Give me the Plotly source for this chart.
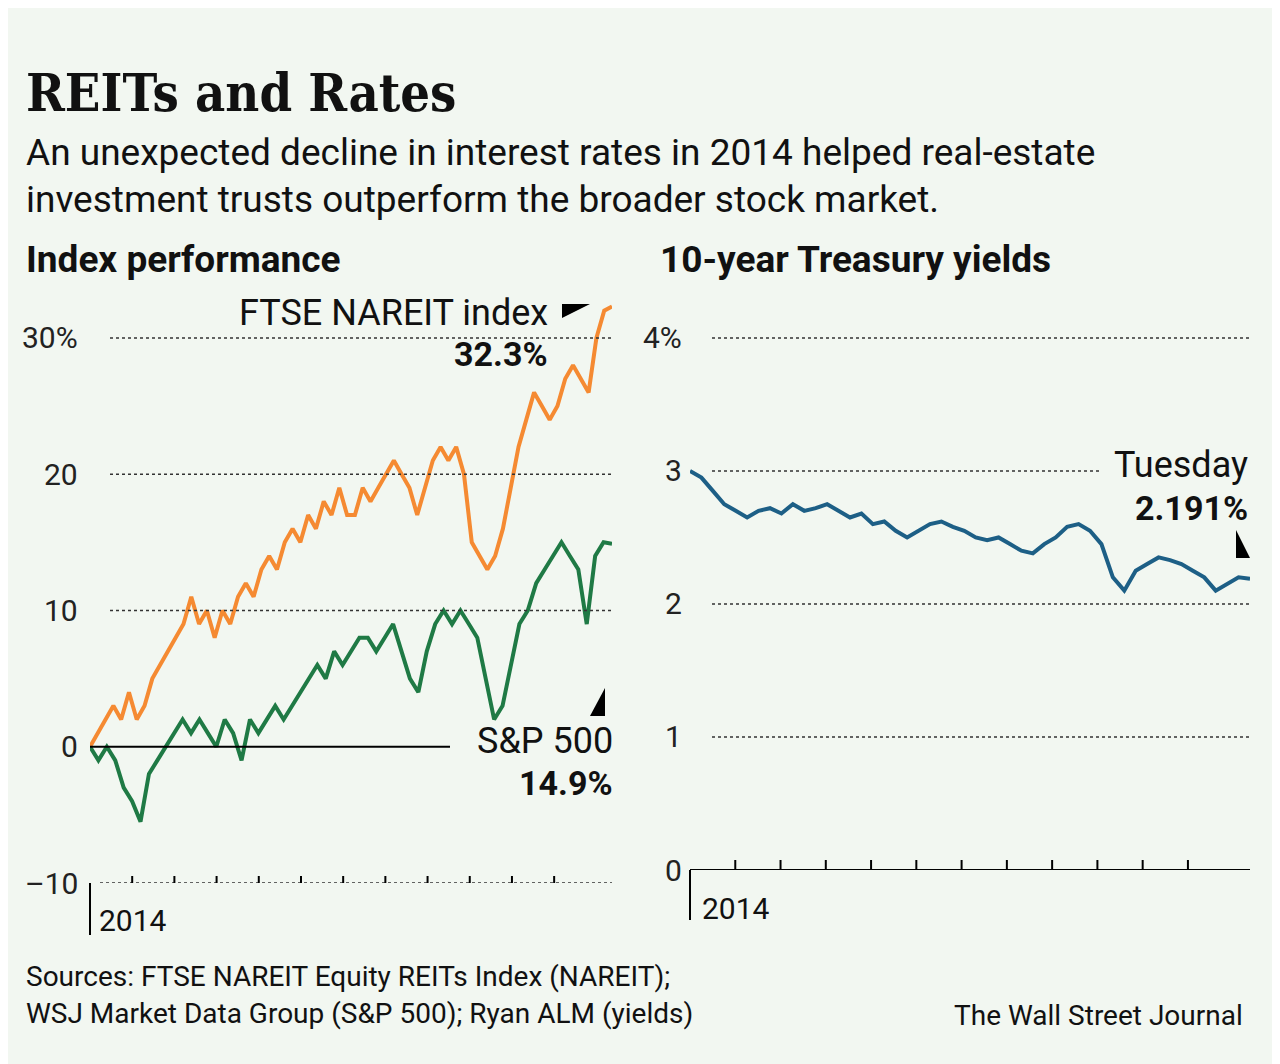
import plotly.graph_objects as go

W, H = 1280, 1064
BG = "#f2f7f1"
FONT = "Liberation Sans Narrow, Roboto, Arial"
OFF = 8  # page margin offset

# data (roughly weekly through 2014)
nareit = [0, 1, 2, 3, 2, 4, 2, 3, 5, 6, 7, 8, 9, 11, 9, 10, 8, 10, 9, 11, 12, 11, 13, 14,
          13, 15, 16, 15, 17, 16, 18, 17, 19, 17, 17, 19, 18, 19, 20, 21, 20, 19, 17, 19,
          21, 22, 21, 22, 20, 15, 14, 13, 14, 16, 19, 22, 24, 26, 25, 24, 25, 27, 28, 27,
          26, 30, 32, 32.3]
sp500 = [0, -1, 0, -1, -3, -4, -5.5, -2, -1, 0, 1, 2, 1, 2, 1, 0, 2, 1, -1, 2, 1, 2, 3, 2,
         3, 4, 5, 6, 5, 7, 6, 7, 8, 8, 7, 8, 9, 7, 5, 4, 7, 9, 10, 9, 10, 9, 8, 5, 2, 3, 6,
         9, 10, 12, 13, 14, 15, 14, 13, 9, 14, 15, 14.9]
yields = [3.0, 2.95, 2.85, 2.75, 2.7, 2.65, 2.7, 2.72, 2.68, 2.75, 2.7, 2.72, 2.75, 2.7,
          2.65, 2.68, 2.6, 2.62, 2.55, 2.5, 2.55, 2.6, 2.62, 2.58, 2.55, 2.5, 2.48, 2.5,
          2.45, 2.4, 2.38, 2.45, 2.5, 2.58, 2.6, 2.55, 2.45, 2.2, 2.1, 2.25, 2.3, 2.35,
          2.33, 2.3, 2.25, 2.2, 2.1, 2.15, 2.2, 2.19]
left_ticks = [-10, 0, 10, 20, 30]
left_labels = ["\u201310", "0", "10", "20", "30%"]
right_ticks = [0, 1, 2, 3, 4]
right_labels = ["0", "1", "2", "3", "4%"]


def fx(px):
    return (px - OFF) / W


def fy(py):
    return 1 - (py - OFF) / H


def frac_x(vals):
    n = len(vals) - 1
    return [i / n for i in range(len(vals))]


fig = go.Figure()
fig.add_trace(go.Scatter(x=frac_x(nareit), y=nareit, mode="lines",
                         line=dict(color="#f58a32", width=4), xaxis="x", yaxis="y"))
fig.add_trace(go.Scatter(x=frac_x(sp500), y=sp500, mode="lines",
                         line=dict(color="#1f7a45", width=4), xaxis="x", yaxis="y"))
fig.add_trace(go.Scatter(x=frac_x(yields), y=yields, mode="lines",
                         line=dict(color="#1d5f86", width=4), xaxis="x2", yaxis="y2"))

ax = dict(showgrid=False, zeroline=False, showticklabels=False, showline=False)
fig.update_layout(
    width=W, height=H, paper_bgcolor=BG, plot_bgcolor=BG, showlegend=False,
    margin=dict(l=0, r=0, t=0, b=0),
    xaxis=dict(ax, domain=[fx(90), fx(612)], range=[0, 1]),
    yaxis=dict(ax, domain=[fy(883), fy(297)], range=[-10, 33]),
    xaxis2=dict(ax, domain=[fx(690), fx(1250)], range=[0, 1.0]),
    yaxis2=dict(ax, domain=[fy(870), fy(298)], range=[0, 4.3]),
)

shapes, ann = [], []
for v, t in zip(left_ticks, left_labels):
    ann.append(dict(x=fx(80), y=v, xref="paper", yref="y", text=t, showarrow=False,
                    xanchor="right", font=dict(family=FONT, size=30, color="#222")))
    if v == 0:
        shapes.append(dict(type="line", xref="paper", yref="y", x0=fx(90), x1=fx(450),
                           y0=0, y1=0, line=dict(color="black", width=2)))
    elif v != -10:
        shapes.append(dict(type="line", xref="paper", yref="y", x0=fx(110), x1=fx(612),
                           y0=v, y1=v, line=dict(color="#333", width=1.5, dash="dot")))
shapes.append(dict(type="line", xref="paper", yref="y", x0=fx(100), x1=fx(612),
                   y0=-10, y1=-10, line=dict(color="#333", width=1.5, dash="dot")))
shapes.append(dict(type="line", xref="paper", yref="paper", x0=fx(90), x1=fx(90),
                   y0=fy(935), y1=fy(883), line=dict(color="black", width=2)))

for v, t in zip(right_ticks, right_labels):
    ann.append(dict(x=fx(684), y=v, xref="paper", yref="y2", text=t, showarrow=False,
                    xanchor="right", font=dict(family=FONT, size=30, color="#222")))
    if v == 0:
        shapes.append(dict(type="line", xref="paper", yref="y2", x0=fx(690), x1=fx(1250),
                           y0=0, y1=0, line=dict(color="black", width=2)))
    else:
        x1 = 1100 if v == 3 else 1250
        shapes.append(dict(type="line", xref="paper", yref="y2", x0=fx(712), x1=fx(x1),
                           y0=v, y1=v, line=dict(color="#333", width=1.5, dash="dot")))
shapes.append(dict(type="line", xref="paper", yref="paper", x0=fx(690), x1=fx(690),
                   y0=fy(920), y1=fy(870), line=dict(color="black", width=2)))
for i in range(1, 12):
    shapes.append(dict(type="line", xref="x2", yref="paper", x0=i / 12 * 0.97, x1=i / 12 * 0.97,
                       y0=fy(870), y1=fy(860), line=dict(color="black", width=2)))
    shapes.append(dict(type="line", xref="x", yref="paper", x0=i / 12 * 0.97, x1=i / 12 * 0.97,
                       y0=fy(883), y1=fy(876), line=dict(color="black", width=2)))

# pointer triangles (pixel paths converted to paper coords)
for path in ["M 562 318 L 590 304 L 562 304 Z", "M 590 716 L 605 688 L 605 716 Z",
             "M 1236 530 L 1250 558 L 1236 558 Z"]:
    toks = path.split()
    out, i = [], 0
    while i < len(toks):
        if toks[i].isalpha():
            out.append(toks[i]); i += 1
        else:
            out.append(f"{fx(float(toks[i])):.5f},{fy(float(toks[i+1])):.5f}"); i += 2
    shapes.append(dict(type="path", xref="paper", yref="paper", line=dict(width=0),
                       fillcolor="black", path=" ".join(out)))


def text(x, y, t, size, anchor="left", bold=False, family=FONT, color="#111"):
    ann.append(dict(x=fx(x), y=fy(y), xref="paper", yref="paper", text=f"<b>{t}</b>" if bold else t,
                    showarrow=False, xanchor=anchor, yanchor="middle",
                    font=dict(family=family, size=size, color=color)))


text(24, 92, "REITs and Rates", 52, bold=True, family="DejaVu Serif Condensed, Liberation Serif")
text(24, 152, "An unexpected decline in interest rates in 2014 helped real-estate", 37)
text(24, 199, "investment trusts outperform the broader stock market.", 37)
text(24, 260, "Index performance", 37, bold=True)
text(658, 260, "10-year Treasury yields", 37, bold=True)
text(550, 313, "FTSE NAREIT index", 36, anchor="right")
text(550, 354, "32.3%", 34, anchor="right", bold=True)
text(615, 741, "S&P 500", 36, anchor="right")
text(615, 783, "14.9%", 34, anchor="right", bold=True)
text(1250, 465, "Tuesday", 36, anchor="right")
text(1250, 508, "2.191%", 34, anchor="right", bold=True)
text(97, 920, "2014", 30)
text(700, 908, "2014", 30)
text(24, 976, "Sources: FTSE NAREIT Equity REITs Index (NAREIT);", 28)
text(24, 1013, "WSJ Market Data Group (S&P 500); Ryan ALM (yields)", 28)
text(1245, 1015, "The Wall Street Journal", 28, anchor="right")

fig.update_layout(shapes=shapes, annotations=ann)
fig.write_html("out.html")
